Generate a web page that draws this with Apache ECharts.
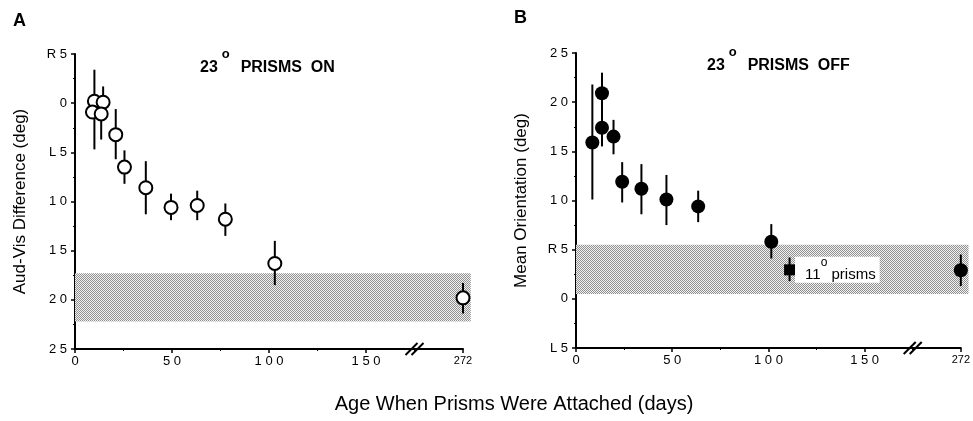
<!DOCTYPE html>
<html>
<head>
<meta charset="utf-8">
<script src="https://cdn.jsdelivr.net/npm/echarts@6/dist/echarts.min.js"></script>
<style>
html, body { margin: 0; padding: 0; background: #fff; }
#chart { width: 973px; height: 421px; }
</style>
</head>
<body>
<div id="chart"></div>
<script>
// ---- data ----
// panel A : 23 deg prisms on (aud-vis difference, R negative / L positive)
var ageA  = [10, 9, 14.5, 13.5, 21, 25.5, 36.5, 49.5, 63, 77.5, 103, 272];
var meanA = [-0.2, 0.9, -0.1, 1.1, 3.2, 6.5, 8.6, 10.6, 10.4, 11.8, 16.3, 19.8];
var loA   = [-3.4, 0.9, -1.7, 1.1, 0.6, 4.8, 5.9, 9.2, 8.9, 10.2, 14.0, 18.3];
var hiA   = [4.7, 0.9, -0.1, 3.7, 5.7, 8.2, 11.3, 11.9, 11.9, 13.5, 18.5, 21.4];
var bandA = [17.3, 22.2];

// panel B : 23 deg prisms off (mean orientation)
var ageB  = [8.5, 13.5, 13.5, 19.5, 24, 34, 47, 63.5, 101.5, 272];
var meanB = [15.9, 20.9, 17.4, 16.5, 11.9, 11.2, 10.1, 9.4, 5.8, 2.9];
var loB   = [10.1, 19.0, 15.5, 14.7, 9.8, 8.6, 7.5, 7.8, 4.1, 1.3];
var hiB   = [21.8, 23.0, 19.3, 18.2, 13.9, 13.7, 12.6, 11.0, 7.6, 4.5];
var bandB = [0.5, 5.5];

// 11 deg prisms (square)
var age11  = [111];
var mean11 = [2.95];
var lo11   = [1.8];
var hi11   = [4.2];

var xTickLabels  = ['0', '50', '100', '150', '272'];
var yTickLabelsA = ['R5', '0', 'L5', '10', '15', '20', '25'];
var yTickLabelsB = ['L5', '0', 'R5', '10', '15', '20', '25'];

// ---- axis helpers ----
var axisEnd = 200;     // where the far point (272) sits after the break
var breakAt = 175;     // position of the // mark
var bandEnd = 204;

function axisX(age) { return age > axisEnd ? axisEnd : age; }
function spaced(s) { return s.split('').join(' '); }

function stipple() {
	var c = document.createElement('canvas');
	c.width = 2; c.height = 2;
	var g = c.getContext('2d');
	g.fillStyle = '#f2f2f2'; g.fillRect(0, 0, 2, 2);
	g.fillStyle = '#909090'; g.fillRect(0, 0, 1, 1); g.fillRect(1, 1, 1, 1);
	return { image: c, repeat: 'repeat' };
}
var bandFill = stipple();

var font = 'Liberation Sans, Arial, sans-serif';

function xAxisCfg(idx) {
	return {
		type: 'value', gridIndex: idx, min: 0, max: axisEnd, interval: 50,
		axisLine: { onZero: false, lineStyle: { color: '#000', width: 2 } },
		axisTick: { length: 4, lineStyle: { color: '#000', width: 1.5 } },
		minorTick: { show: true, splitNumber: 2, length: 2, lineStyle: { color: '#000' } },
		splitLine: { show: false },
		axisLabel: {
			margin: 6, color: '#000', fontFamily: font, fontSize: 13,
			formatter: function(v) {
				var i = Math.round(v / 50);
				return i === xTickLabels.length - 1 ? '{s|' + xTickLabels[i] + '}' : spaced(xTickLabels[i]);
			},
			rich: { s: { fontSize: 11, fontFamily: font, color: '#000' } }
		}
	};
}

function yAxisCfg(idx, labels, name, inverse) {
	return {
		type: 'value', gridIndex: idx, min: -5, max: 25, interval: 5, inverse: inverse,
		name: name, nameLocation: 'middle', nameGap: 46, nameRotate: 90,
		nameTextStyle: { color: '#000', fontFamily: font, fontSize: 17 },
		axisLine: { onZero: false, lineStyle: { color: '#000', width: 2 } },
		axisTick: { length: 4, lineStyle: { color: '#000', width: 1.5 } },
		minorTick: { show: true, splitNumber: 2, length: 2, lineStyle: { color: '#000' } },
		splitLine: { show: false },
		axisLabel: {
			margin: 8, color: '#000', fontFamily: font, fontSize: 13,
			formatter: function(v) { return spaced(labels[Math.round((v + 5) / 5)]); }
		}
	};
}

function bandSeries(idx, band) {
	return {
		type: 'custom', xAxisIndex: idx, yAxisIndex: idx, clip: false, z: 1, silent: true,
		data: [[0, band[0], bandEnd, band[1]]],
		renderItem: function(params, api) {
			var p1 = api.coord([api.value(0), api.value(1)]);
			var p2 = api.coord([api.value(2), api.value(3)]);
			return {
				type: 'rect',
				shape: { x: Math.min(p1[0], p2[0]), y: Math.min(p1[1], p2[1]),
				         width: Math.abs(p2[0] - p1[0]), height: Math.abs(p2[1] - p1[1]) },
				style: { fill: bandFill }
			};
		}
	};
}

function errSeries(idx, ages, lo, hi) {
	return {
		type: 'custom', xAxisIndex: idx, yAxisIndex: idx, clip: false, z: 2, silent: true,
		data: ages.map(function(a, i) { return [axisX(a), lo[i], hi[i]]; }),
		renderItem: function(params, api) {
			var p1 = api.coord([api.value(0), api.value(1)]);
			var p2 = api.coord([api.value(0), api.value(2)]);
			return {
				type: 'line',
				shape: { x1: p1[0], y1: p1[1], x2: p2[0], y2: p2[1] },
				style: { stroke: '#000', lineWidth: 2 }
			};
		}
	};
}

function breakSeries(idx, yVal) {
	return {
		type: 'custom', xAxisIndex: idx, yAxisIndex: idx, clip: false, z: 5, silent: true,
		data: [[breakAt, yVal]],
		renderItem: function(params, api) {
			var p = api.coord([api.value(0), api.value(1)]);
			var kids = [];
			[-3, 3].forEach(function(dx) {
				kids.push({ type: 'line',
					shape: { x1: p[0] + dx - 6, y1: p[1] + 6, x2: p[0] + dx + 6, y2: p[1] - 6 },
					style: { stroke: '#000', lineWidth: 2 } });
			});
			return { type: 'group', children: kids };
		}
	};
}

function pts(ages, means) {
	return ages.map(function(a, i) { return [axisX(a), means[i]]; });
}

var chart = echarts.init(document.getElementById('chart'));

var option = {
	animation: false,
	backgroundColor: '#fff',
	grid: [
		{ left: 75, right: 510, top: 54, bottom: 72 },
		{ left: 576, right: 11, top: 53, bottom: 73 }
	],
	xAxis: [xAxisCfg(0), xAxisCfg(1)],
	yAxis: [
		yAxisCfg(0, yTickLabelsA, 'Aud-Vis Difference (deg)', true),
		yAxisCfg(1, yTickLabelsB, 'Mean Orientation (deg)', false)
	],
	series: [
		bandSeries(0, bandA),
		errSeries(0, ageA, loA, hiA),
		{
			type: 'scatter', xAxisIndex: 0, yAxisIndex: 0, z: 3, clip: false,
			symbol: 'circle', symbolSize: 13,
			itemStyle: { color: '#fff', borderColor: '#000', borderWidth: 2, opacity: 1 },
			data: pts(ageA, meanA)
		},
		breakSeries(0, 25),

		bandSeries(1, bandB),
		errSeries(1, ageB, loB, hiB),
		errSeries(1, age11, lo11, hi11),
		{
			type: 'scatter', xAxisIndex: 1, yAxisIndex: 1, z: 3, clip: false,
			symbol: 'circle', symbolSize: 14,
			itemStyle: { color: '#000', opacity: 1 },
			data: pts(ageB, meanB)
		},
		{
			type: 'scatter', xAxisIndex: 1, yAxisIndex: 1, z: 3, clip: false,
			symbol: 'rect', symbolSize: 11,
			itemStyle: { color: '#000', opacity: 1 },
			label: {
				show: true, position: 'right', distance: 0,
				backgroundColor: '#fff', padding: [0, 4, 0, 10],
				formatter: '{n|11}{s|o}{n| prisms}',
				rich: {
					n: { fontFamily: font, fontSize: 15, color: '#000', lineHeight: 26, verticalAlign: 'bottom' },
					s: { fontFamily: font, fontSize: 12, color: '#000', lineHeight: 26, verticalAlign: 'top' }
				}
			},
			data: pts(age11, mean11)
		},
		breakSeries(1, -5)
	],
	graphic: [
		{ type: 'text', left: 13, top: 12, style: { text: 'A', font: 'bold 18px ' + font, fill: '#000' } },
		{ type: 'text', left: 514, top: 9, style: { text: 'B', font: 'bold 18px ' + font, fill: '#000' } },
		{
			type: 'text', left: 200, top: 48,
			style: {
				text: '{b|23}{s|o}{b|  PRISMS  ON}', fill: '#000',
				rich: {
					b: { fontFamily: font, fontWeight: 'bold', fontSize: 16, lineHeight: 28, verticalAlign: 'bottom' },
					s: { fontFamily: font, fontWeight: 'bold', fontSize: 13, lineHeight: 28, verticalAlign: 'top', padding: [0, 2, 0, 4] }
				}
			}
		},
		{
			type: 'text', left: 707, top: 46,
			style: {
				text: '{b|23}{s|o}{b|  PRISMS  OFF}', fill: '#000',
				rich: {
					b: { fontFamily: font, fontWeight: 'bold', fontSize: 16, lineHeight: 28, verticalAlign: 'bottom' },
					s: { fontFamily: font, fontWeight: 'bold', fontSize: 13, lineHeight: 28, verticalAlign: 'top', padding: [0, 2, 0, 4] }
				}
			}
		},
		{
			type: 'text', x: 514, y: 394,
			style: { text: 'Age When Prisms Were Attached (days)', font: '20px ' + font, fill: '#000', align: 'center' }
		}
	]
};

chart.setOption(option);
</script>
</body>
</html>
